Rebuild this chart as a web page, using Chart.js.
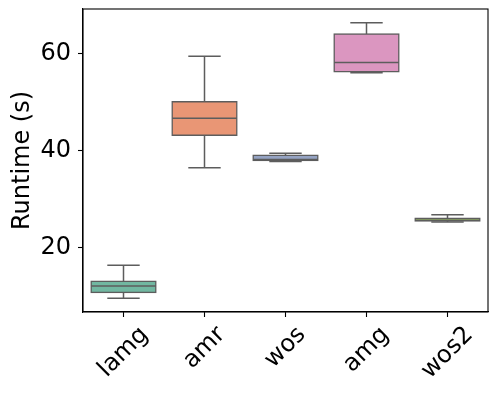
<!DOCTYPE html>
<html>
<head>
<meta charset="utf-8">
<script src="https://cdn.jsdelivr.net/npm/chart.js@4/dist/chart.umd.min.js"></script>
<style>
  html, body { margin: 0; padding: 0; background: #fff; }
  #wrap { width: 498px; height: 396px; }
</style>
</head>
<body>
<div id="wrap"><canvas id="c" width="498" height="396"></canvas></div>
<script>
const categories = ['lamg', 'amr', 'wos', 'amg', 'wos2'];
const whiskerLow  = [9.6, 36.5, 37.8, 56.1, 25.3];
const q1          = [10.8, 43.2, 38.0, 56.3, 25.5];
const median      = [12.1, 46.7, 38.2, 58.2, 25.7];
const q3          = [13.1, 50.1, 39.1, 64.1, 26.1];
const whiskerHigh = [16.4, 59.5, 39.5, 66.4, 26.8];
const yTicks = [20, 40, 60];
const boxColors = ['rgb(113,183,161)', 'rgb(233,150,117)', 'rgb(149,163,195)', 'rgb(219,150,192)', 'rgb(162,200,100)'];
const lineGray = '#5d5d5d';
const FONT = "'DejaVu Sans', sans-serif";
const FS = 24;

Chart.defaults.font.family = FONT;
Chart.defaults.color = '#000';

const boxPlugin = {
  id: 'boxExtras',
  afterDatasetsDraw(chart) {
    const ctx = chart.ctx;
    const xs = chart.scales.x, ys = chart.scales.y;
    const step = xs.getPixelForValue(1) - xs.getPixelForValue(0);
    const boxW = step * 0.8, capW = boxW * 0.5;
    ctx.save();
    ctx.strokeStyle = lineGray;
    ctx.lineWidth = 1.5;
    categories.forEach((c, i) => {
      const x = xs.getPixelForValue(i);
      const yl = ys.getPixelForValue(whiskerLow[i]);
      const yq1 = ys.getPixelForValue(q1[i]);
      const ym = ys.getPixelForValue(median[i]);
      const yq3 = ys.getPixelForValue(q3[i]);
      const yh = ys.getPixelForValue(whiskerHigh[i]);
      ctx.beginPath();
      ctx.moveTo(x, yq1); ctx.lineTo(x, yl);
      ctx.moveTo(x, yq3); ctx.lineTo(x, yh);
      ctx.moveTo(x - capW / 2, yl); ctx.lineTo(x + capW / 2, yl);
      ctx.moveTo(x - capW / 2, yh); ctx.lineTo(x + capW / 2, yh);
      ctx.moveTo(x - boxW / 2, ym); ctx.lineTo(x + boxW / 2, ym);
      ctx.stroke();
    });
    ctx.restore();
  },
  afterDraw(chart) {
    const ctx = chart.ctx;
    const a = chart.chartArea;
    const xs = chart.scales.x;
    ctx.save();
    ctx.strokeStyle = '#000';
    ctx.lineWidth = 1.1;
    ctx.strokeRect(a.left, a.top, a.right - a.left, a.bottom - a.top);
    // rotated x labels, centred on ticks like matplotlib
    ctx.font = FS + 'px ' + FONT;
    ctx.fillStyle = '#000';
    ctx.textAlign = 'center';
    ctx.textBaseline = 'middle';
    const h = FS;
    const yTop = a.bottom + 10.5;
    categories.forEach((c, i) => {
      const x = xs.getPixelForValue(i);
      const w = ctx.measureText(c).width;
      const half = (w + h) * Math.SQRT1_2 / 2;
      ctx.save();
      ctx.translate(x, yTop + half);
      ctx.rotate(-Math.PI / 4);
      ctx.fillText(c, 0, 0);
      ctx.restore();
    });
    ctx.restore();
  }
};

new Chart(document.getElementById('c'), {
  type: 'bar',
  data: {
    labels: categories,
    datasets: [{
      data: categories.map((c, i) => [q1[i], q3[i]]),
      backgroundColor: boxColors,
      borderColor: lineGray,
      borderWidth: 1.5,
      borderSkipped: false,
      inflateAmount: 0.75,
      barPercentage: 0.8,
      categoryPercentage: 1.0
    }]
  },
  options: {
    responsive: false,
    animation: false,
    devicePixelRatio: 1,
    layout: { padding: { top: 9, right: 10, left: 0, bottom: 0 } },
    plugins: { legend: { display: false }, tooltip: { enabled: false } },
    scales: {
      x: {
        type: 'category',
        offset: true,
        grid: { offset: false, drawOnChartArea: false, drawTicks: true, tickLength: 5, tickColor: '#000', tickWidth: 1.1 },
        border: { display: true, color: '#000', width: 1.1 },
        ticks: { display: false },
        afterFit(s) { s.height = 84; s.paddingLeft = 0; s.paddingRight = 0; }
      },
      y: {
        min: 6.76,
        max: 69.24,
        afterBuildTicks(s) { s.ticks = yTicks.map(v => ({ value: v })); },
        grid: { drawOnChartArea: false, drawTicks: true, tickLength: 5, tickColor: '#000', tickWidth: 1.1 },
        border: { display: true, color: '#000', width: 1.1 },
        ticks: { color: '#000', font: { size: FS, family: FONT }, padding: 7 },
        title: { display: true, text: 'Runtime (s)', color: '#000', font: { size: FS, family: FONT }, padding: { top: 8, bottom: 0 } },
        afterFit(s) { s.width = 83; s.paddingTop = 0; s.paddingBottom = 0; }
      }
    }
  },
  plugins: [boxPlugin]
});
</script>
</body>
</html>
